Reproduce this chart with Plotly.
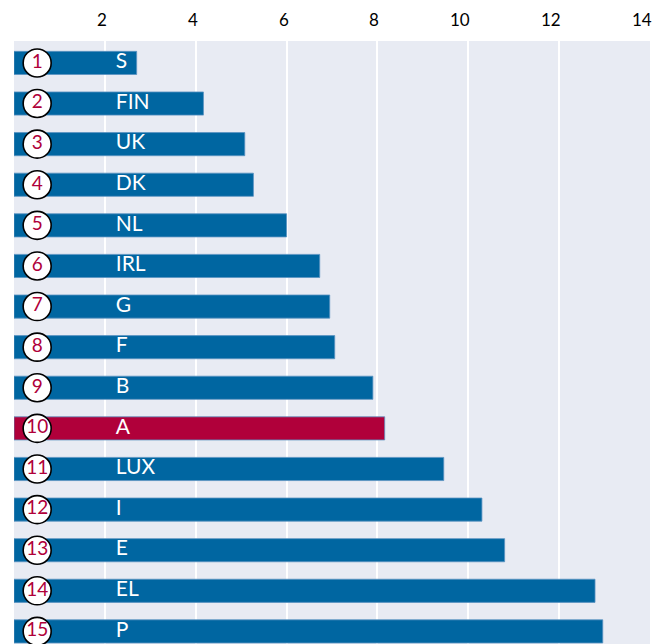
import plotly.graph_objects as go

countries = ["S", "FIN", "UK", "DK", "NL", "IRL", "G", "F", "B", "A", "LUX", "I", "E", "EL", "P"]
values = [2.70, 4.17, 5.08, 5.27, 6.00, 6.73, 6.95, 7.06, 7.90, 8.16, 9.46, 10.30, 10.80, 12.79, 12.96]
ranks = [str(i) for i in range(1, 16)]
highlight = "A"
tick_vals = [2, 4, 6, 8, 10, 12, 14]
tick_text = ["2", "4", "6", "8", "10", "12", "14"]

BLUE = "#0066a1"
RED = "#b0003a"
BG = "#e8ebf3"
FONT = "Lato"

ypos = list(range(len(countries)))
colors = [RED if c == highlight else BLUE for c in countries]

fig = go.Figure()
fig.add_trace(go.Bar(
    x=values, y=ypos, orientation="h", width=0.57,
    marker=dict(color=colors, line=dict(color="#5b93c2", width=0.8)),
    hoverinfo="skip",
))
# country labels inside bars
fig.add_trace(go.Scatter(
    x=[2.24] * len(countries), y=ypos, mode="text", text=countries,
    textposition="middle right",
    textfont=dict(family=FONT, size=21, color="white"),
    hoverinfo="skip", cliponaxis=False,
))
# rank circles
fig.add_trace(go.Scatter(
    x=[0.51] * len(countries), y=ypos, mode="markers+text", text=ranks,
    textposition="middle center",
    marker=dict(size=28, color="white", line=dict(color="black", width=1.6)),
    textfont=dict(family=FONT, size=19, color=RED),
    hoverinfo="skip", cliponaxis=False,
))

for v, t in zip(tick_vals, tick_text):
    fig.add_annotation(
        x=v, y=1, xref="x", yref="paper", text=t, showarrow=False,
        xanchor="right", yanchor="bottom", xshift=4, yshift=9,
        font=dict(family=FONT, size=17, color="#000000"),
    )

fig.update_layout(
    width=656, height=644,
    margin=dict(l=14, r=6, t=41, b=0),
    paper_bgcolor="white", plot_bgcolor=BG,
    showlegend=False,
    bargap=0,
    hovermode=False,
    xaxis=dict(range=[0, 14], tickvals=tick_vals, showticklabels=False,
               showgrid=True, gridcolor="white", gridwidth=2, zeroline=False,
               fixedrange=True),
    yaxis=dict(range=[14.31, -0.54], showticklabels=False, showgrid=False,
               zeroline=False, fixedrange=True),
)

fig.write_html(
    "out.html",
    config={"displayModeBar": False, "staticPlot": True},
    post_script="document.body.style.margin='0';document.body.style.overflow='hidden';",
)
